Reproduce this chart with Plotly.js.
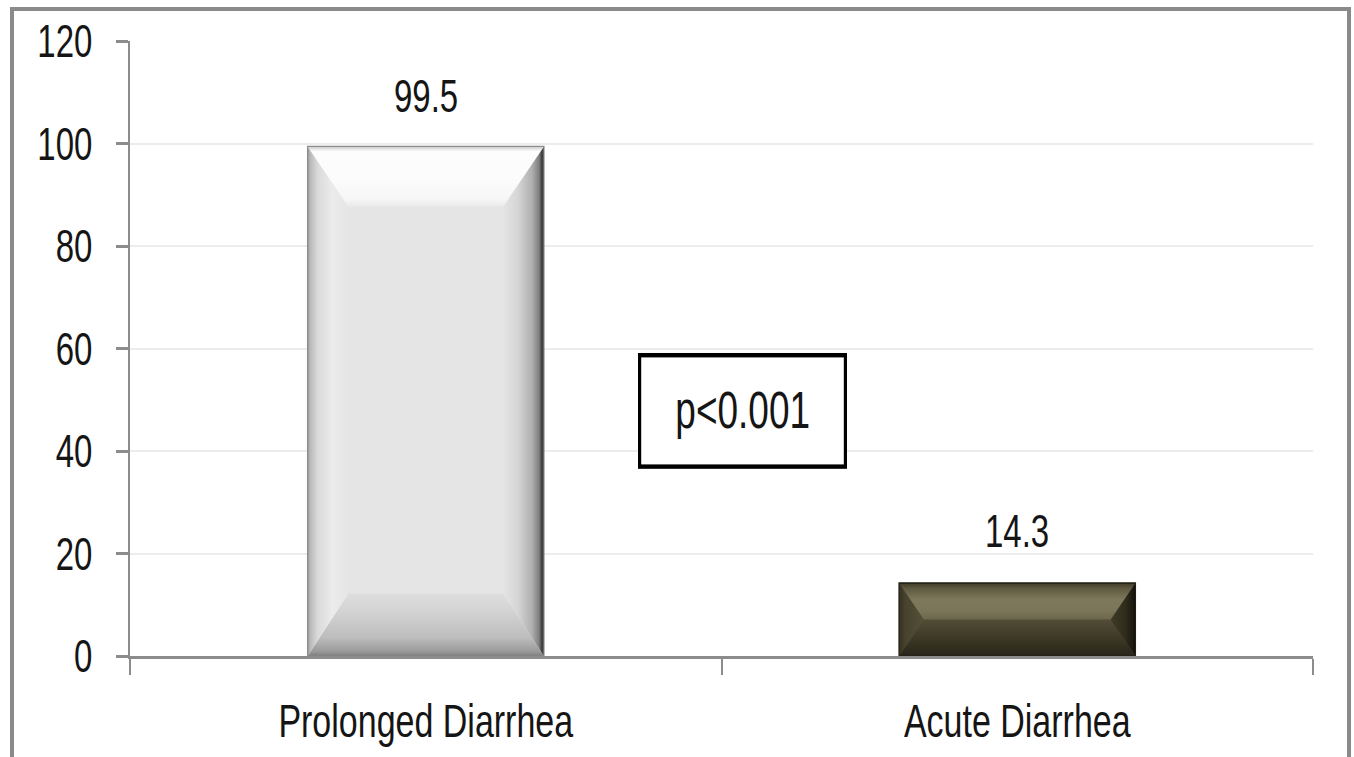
<!DOCTYPE html>
<html><head><meta charset="utf-8">
<script src="https://cdn.plot.ly/plotly-3.0.1.min.js"></script>
<style>
html,body{margin:0;padding:0;background:#fff;overflow:hidden;}
#wrap{position:relative;width:1354px;height:757px;overflow:hidden;}
#chart{position:absolute;left:0;top:0;width:1354px;transform-origin:0 0;}
#frame{position:absolute;left:10px;top:7px;width:1341px;height:800px;border:4px solid #8a8a8a;pointer-events:none;box-sizing:border-box;}
</style></head>
<body><div id="wrap"><div id="chart"></div><div id="frame"></div></div>
<script>
// ---- data ----
const categories = ["Prolonged Diarrhea", "Acute Diarrhea"];
const values = [99.5, 14.3];
const valueLabels = ["99.5", "14.3"];
const yTicks = [0, 20, 40, 60, 80, 100, 120];
const pText = "p<0.001";

// ---- styling ----
const W = 1354, H_OUT = 757, H = 549;          // chart drawn at H then stretched vertically like the source image
const S = H_OUT / H;
const FONT = "'Liberation Sans', Arimo, Arial, sans-serif";
const BW = 0.40, HALF = BW / 2;
// bevel: side width (x units), top / bottom depth (y units, capped at half the bar height)
const bevels = [
  {sx:0.069, ty:11.8, by:12.2,
   top:[[0,'#e9e9e9'],[0.12,'#f6f6f6'],[0.5,'#fcfcfc'],[0.92,'#fdfdfd'],[1,'#c8c8c8']],
   bottom:[[0,'#7c7c7c'],[0.08,'#9a9a9a'],[0.3,'#bdbdbd'],[0.7,'#d2d2d2'],[1,'#dedede']],
   left:[[0,'#8a8a8a'],[0.06,'#b8b8b8'],[0.25,'#dadada'],[0.6,'#ebebeb'],[1,'#e6e6e6']],
   right:[[0,'#e4e4e4'],[0.35,'#d6d6d6'],[0.7,'#b0b0b0'],[0.88,'#7e7e7e'],[0.95,'#3a3a3a'],[1,'#555555']],
   face:'#e5e5e5', outline:'#8c8c8c'},
  {sx:0.042, ty:7.15, by:7.15,
   top:[[0,'#6c674c'],[0.25,'#7b7659'],[0.55,'#7d785b'],[0.85,'#5f5a40'],[1,'#3e3a27']],
   bottom:[[0,'#26241a'],[0.2,'#302d1e'],[0.5,'#3d3926'],[0.75,'#48432f'],[1,'#524d36']],
   left:[[0,'#34311f'],[0.25,'#46422d'],[1,'#55503a']],
   right:[[0,'#3f3b27'],[0.6,'#2f2c1c'],[0.9,'#1a1810'],[1,'#0e0d08']],
   face:'#4f4a34', outline:'#1e1c12'}
];

const traces = [];
// the bars themselves (category axis)
traces.push({
  type:"bar", x:categories, y:values, width:BW,
  marker:{color:bevels.map(b=>b.face), line:{width:0}},
  hoverinfo:"x+y", showlegend:false
});

// bevel facets, drawn on a hidden numeric x axis aligned to the category axis
function facet(xs, ys, orient, start, stop, cs){
  return {type:"scatter", xaxis:"x2", yaxis:"y", x:xs, y:ys, mode:"lines", line:{width:0},
          fill:"toself", fillcolor:cs[Math.floor(cs.length/2)][1],
          fillgradient:{type:orient, start:start, stop:stop, colorscale:cs},
          hoverinfo:"skip", showlegend:false};
}
values.forEach((v,i)=>{
  const b = bevels[i];
  const L = i - HALF, R = i + HALF, Li = L + b.sx, Ri = R - b.sx;
  const Ti = v - b.ty, Bi = b.by;
  if (Ti > Bi) traces.push({type:"scatter", xaxis:"x2", x:[Li,Ri,Ri,Li,Li], y:[Bi,Bi,Ti,Ti,Bi], mode:"lines",
      line:{width:0}, fill:"toself", fillcolor:b.face, hoverinfo:"skip", showlegend:false});
  traces.push(facet([L,R,Ri,Li,L],[v,v,Ti,Ti,v],"vertical",Ti,v,b.top));
  traces.push(facet([L,R,Ri,Li,L],[0,0,Bi,Bi,0],"vertical",0,Bi,b.bottom));
  traces.push(facet([L,Li,Li,L,L],[0,Bi,Ti,v,0],"horizontal",L,Li,b.left));
  traces.push(facet([R,Ri,Ri,R,R],[0,Bi,Ti,v,0],"horizontal",Ri,R,b.right));
  traces.push({type:"scatter", xaxis:"x2", x:[L,R,R,L,L], y:[0,0,v,v,0], mode:"lines",
      line:{width:1, color:b.outline}, hoverinfo:"skip", showlegend:false});
});

const annotations = categories.map((c,i)=>({
  x:c, y:values[i], xref:"x", yref:"y", text:valueLabels[i], showarrow:false,
  yshift:37, font:{family:FONT, size:33, color:"#151515"}
}));
annotations.push({
  x:0.518, y:47.9, xref:"paper", yref:"y", text:pText, showarrow:false,
  width:201, height:76, bordercolor:"#000", borderwidth:3.2, bgcolor:"#fff",
  font:{family:FONT, size:37, color:"#151515"}
});

const layout = {
  width:W, height:H,
  margin:{l:130, r:41, t:30, b:73},
  paper_bgcolor:"#fff", plot_bgcolor:"#fff",
  barmode:"overlay",
  showlegend:false,
  font:{family:FONT, size:34, color:"#151515"},
  xaxis:{
    type:"category", range:[-0.5,1.5], showline:true, linecolor:"#8c8c8c", linewidth:2,
    ticks:"outside", tickson:"boundaries", ticklen:11.6, tickcolor:"#8c8c8c", tickwidth:2,
    showgrid:false, ticklabelstandoff:16,
    tickfont:{family:FONT, size:34, color:"#151515"}
  },
  xaxis2:{overlaying:"x", range:[-0.5,1.5], visible:false, fixedrange:true},
  yaxis:{
    range:[0,120], tickvals:yTicks, ticktext:yTicks.map(String),
    showline:true, linecolor:"#8c8c8c", linewidth:2,
    ticks:"outside", ticklen:12, tickcolor:"#8c8c8c", tickwidth:2,
    showgrid:true, gridcolor:"#ececec", gridwidth:1.6, zeroline:false,
    ticklabelstandoff:17,
    tickfont:{family:FONT, size:33, color:"#151515"}
  },
  annotations:annotations
};

const el = document.getElementById("chart");
el.style.height = H + "px";
el.style.transform = "scaleY(" + S + ")";
Plotly.newPlot(el, traces, layout, {displayModeBar:false, staticPlot:true});
</script></body></html>
